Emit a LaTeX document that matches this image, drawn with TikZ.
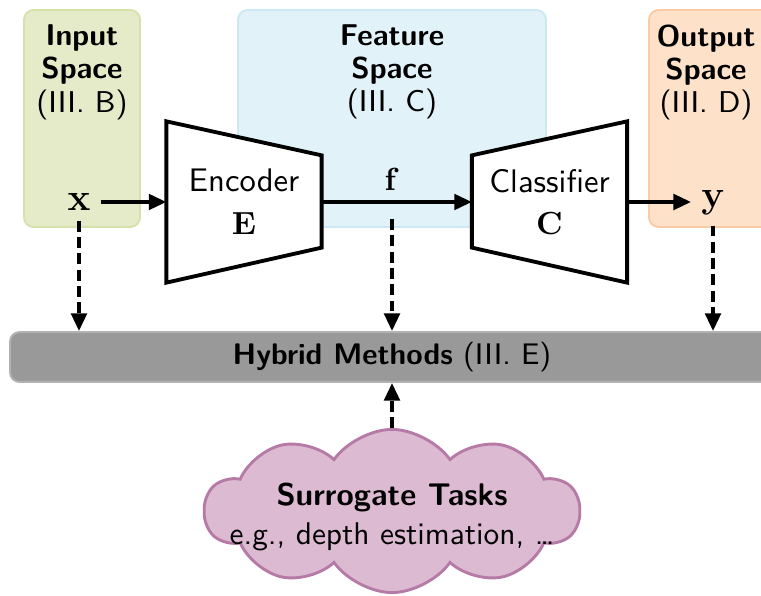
\documentclass[tikz,border=0pt]{standalone}
\usetikzlibrary{shapes.symbols, arrows.meta, calc}

\definecolor{inputfill}{RGB}{229,235,200}
\definecolor{inputline}{RGB}{214,226,172}
\definecolor{featfill}{RGB}{225,242,248}
\definecolor{featline}{RGB}{204,232,244}
\definecolor{outfill}{RGB}{253,225,201}
\definecolor{outborder}{RGB}{250,203,165}
\definecolor{hybfill}{RGB}{153,153,153}
\definecolor{hybline}{RGB}{178,178,178}
\definecolor{cloudfill}{RGB}{220,186,210}
\definecolor{cloudline}{RGB}{182,122,166}

\tikzset{
  spacebox/.style={line width=0.6pt, rounded corners=3pt},
  spacetitle/.style={anchor=north, align=center, inner sep=0pt,
    font=\sffamily\fontsize{9.4}{10.4}\selectfont},
  block/.style={minimum width=48.1pt, minimum height=50pt, inner sep=0pt,
    align=center, font=\sffamily\fontsize{10.2}{12.4}\selectfont},
  trap/.style={line width=1.2pt, fill=white, line join=miter},
  flow/.style={line width=1.2pt, -{Triangle[length=5.5pt,width=4.8pt]}},
  dflow/.style={flow, dash pattern=on 3.4pt off 1.7pt},
  varlabel/.style={inner sep=3pt},
}

\begin{document}
\begin{tikzpicture}[x=0.3125pt, y=-0.3125pt, font=\sffamily]
\useasboundingbox (0,0) rectangle (761,596);
\clip (0,0) rectangle (761,596);

% the three spaces
\draw[spacebox, fill=inputfill, draw=inputline] (24,10) rectangle (140,227);
\draw[spacebox, fill=featfill, draw=featline] (238,10) rectangle (546,227);
\draw[spacebox, fill=outfill, draw=outborder] (649,10) rectangle (790,227);

\node[spacetitle] (tin) at (82,24) {\textbf{Input}\\\textbf{Space}\\(III.~B)};
\node[spacetitle] (tfeat) at (392,24) {\textbf{Feature}\\\textbf{Space}\\(III.~C)};
\node[spacetitle] (tout) at (706,24) {\textbf{Output}\\\textbf{Space}\\(III.~D)};

% encoder and classifier blocks (text-free frames, trapezoids drawn on them)
\node[block] (enc) at (244,202) {};
\node[block] (clf) at (549.5,202) {};
\draw[trap] (enc.north west) -- ($(enc.north east)+(0,34)$)
  -- ($(enc.south east)+(0,-35)$) -- (enc.south west) -- cycle;
\draw[trap] ($(clf.north west)+(0,34)$) -- (clf.north east)
  -- (clf.south east) -- ($(clf.south west)+(0,-35)$) -- cycle;
\node[block] (enctext) at (enc) {Encoder\\[1pt]$\mathbf{E}$};
\node[block] (clftext) at (clf) {Classifier\\[1pt]$\mathbf{C}$};

% variables
\node[varlabel] (x) at (79,202) {\large$\mathbf{x}$};
\node[varlabel] (f) at (392,179) {$\mathbf{f}$};
\node[varlabel] (y) at (713,203) {\large$\mathbf{y}$};
\coordinate (fdrop) at (392,219);

% hybrid methods bar
\node[fill=hybfill, draw=hybline, line width=0.6pt, rounded corners=3pt,
  minimum width=238.75pt, minimum height=15.6pt, inner sep=0pt,
  font=\sffamily\fontsize{9.3}{11}\selectfont]
  (hyb) at (392,357) {\textbf{Hybrid Methods} (III.~E)};

% surrogate tasks cloud: empty outline, text set on top of it
\node[cloud, cloud puffs=10, cloud puff arc=110, cloud ignores aspect,
  fill=cloudfill, draw=cloudline, line width=0.9pt,
  minimum width=117pt, minimum height=51pt, inner sep=0pt]
  (sur) at (392,511) {};
\node[align=center, inner sep=0pt, font=\sffamily\fontsize{9.8}{12.4}\selectfont]
  (surtext) at (392,517) {\textbf{Surrogate Tasks}\\e.g., depth estimation, \dots};

% main flow
\draw[flow] (x) -- (x -| enc.west);
\draw[flow] (enc.east) -- (clf.west);
\draw[flow] (clf.east) -- (clf.east -| y.west);

% links into the hybrid methods
\draw[dflow] (x) -- (x |- hyb.north);
\draw[dflow] (fdrop) -- (fdrop |- hyb.north);
\draw[dflow] (y) -- (y |- hyb.north);
\draw[dflow] (sur) -- (hyb);
\end{tikzpicture}
\end{document}
